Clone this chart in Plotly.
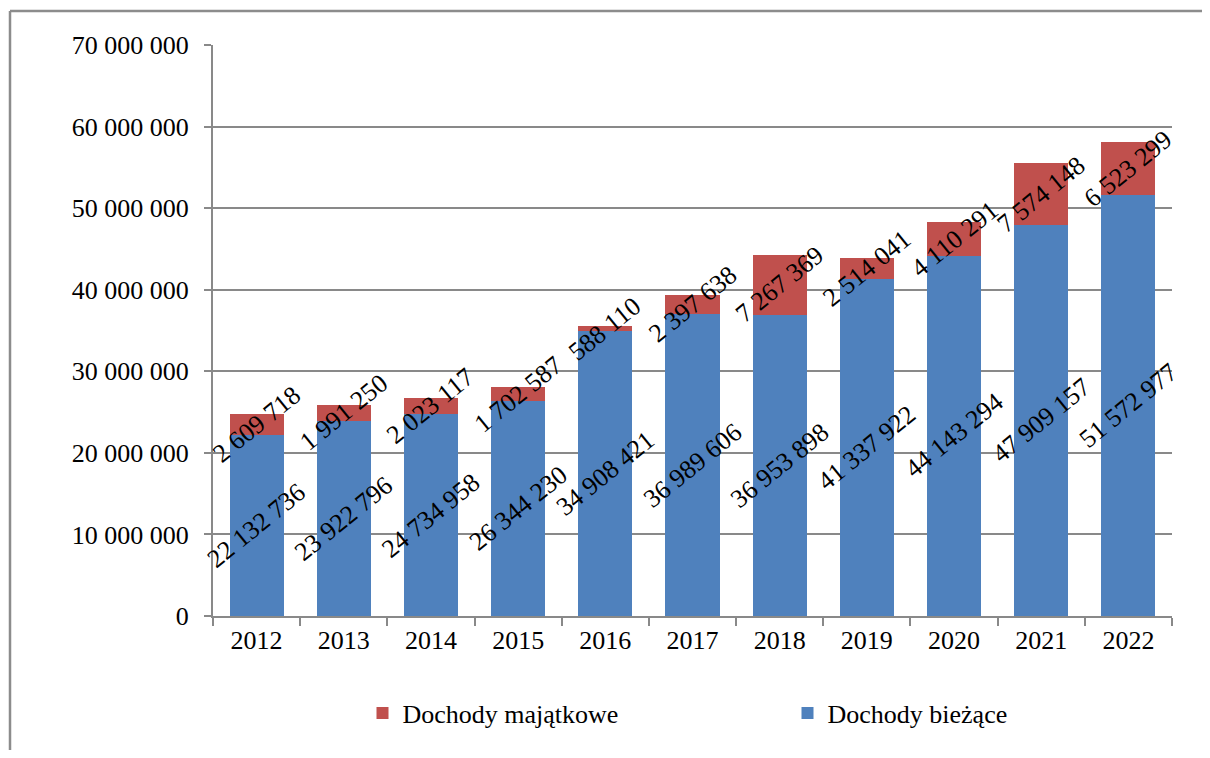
import plotly.graph_objects as go

years = ["2012", "2013", "2014", "2015", "2016", "2017", "2018", "2019", "2020", "2021", "2022"]
biezace = [22132736, 23922796, 24734958, 26344230, 34908421, 36989606, 36953898, 41337922, 44143294, 47909157, 51572977]
majatkowe = [2609718, 1991250, 2023117, 1702587, 588110, 2397638, 7267369, 2514041, 4110291, 7574148, 6523299]
y_ticks = [0, 10000000, 20000000, 30000000, 40000000, 50000000, 60000000, 70000000]

BLUE = "#4F81BD"
RED = "#C0504D"
GRID = "#898989"
FONT = "Liberation Serif"

# page has an 8px body margin; figure drawn from (8,8)
OFF = 8
FIG_W, FIG_H = 1210 - OFF, 758 - 2 * OFF
PL, PR, PT, PB = 213, 1172, 45, 616  # plot area in page px
pw, ph = PR - PL, PB - PT


def fmt(v):
    return f"{v:,}".replace(",", " ")


fig = go.Figure()
fig.add_trace(go.Bar(x=years, y=biezace, name="Dochody bieżące", marker=dict(color=BLUE, line=dict(width=0))))
fig.add_trace(go.Bar(x=years, y=majatkowe, name="Dochody majątkowe", marker=dict(color=RED, line=dict(width=0))))

annotations = []
for i, (b, m) in enumerate(zip(biezace, majatkowe)):
    annotations.append(dict(x=i, y=b / 2, text=fmt(b), showarrow=False, textangle=-39,
                            font=dict(family=FONT, size=26, color="black"), xref="x", yref="y"))
    annotations.append(dict(x=i, y=b + m / 2, text=fmt(m), showarrow=False, textangle=-39,
                            font=dict(family=FONT, size=26, color="black"), xref="x", yref="y"))

FRAME = "#8c8c8c"
fx = (10 - PL) / pw
fy = (PB - 11) / ph
shapes = [
    dict(type="line", xref="paper", yref="paper", x0=fx, x1=(1260 - PL) / pw, y0=fy, y1=fy,
         line=dict(color=FRAME, width=2.5), layer="below"),
    dict(type="line", xref="paper", yref="paper", x0=fx, x1=fx, y0=fy, y1=(PB - 800) / ph,
         line=dict(color=FRAME, width=2.5), layer="below"),
]

fig.update_layout(
    width=FIG_W, height=FIG_H,
    barmode="stack", bargap=0.38,
    separators=", ",
    plot_bgcolor="white", paper_bgcolor="white",
    font=dict(family=FONT, size=26, color="black"),
    margin=dict(l=PL - OFF, r=FIG_W - (PR - OFF), t=PT - OFF, b=FIG_H - (PB - OFF), autoexpand=False),
    annotations=annotations,
    shapes=shapes,
    legend=dict(orientation="h", x=0.5 + 95 / pw, xanchor="center", y=(PB - 713) / ph, yanchor="middle",
                traceorder="reversed", font=dict(family=FONT, size=26, color="black"),
                itemwidth=30, entrywidth=380, bgcolor="rgba(0,0,0,0)"),
    xaxis=dict(type="category", range=[-0.5, len(years) - 0.5], showline=True, linecolor=GRID, linewidth=2,
               ticks="outside", tickson="boundaries", ticklen=8, tickwidth=2, tickcolor=GRID, showgrid=False,
               tickangle=0, tickfont=dict(family=FONT, size=26, color="black")),
    yaxis=dict(range=[0, 70000000], tickvals=y_ticks, tickformat=",d", showline=True, linecolor=GRID,
               linewidth=2, ticks="outside", ticklen=7, tickwidth=2, tickcolor=GRID,
               showgrid=True, gridcolor=GRID, gridwidth=2, zeroline=False,
               ticklabelstandoff=10, tickfont=dict(family=FONT, size=26, color="black")),
)

fig.write_html("out.html")
